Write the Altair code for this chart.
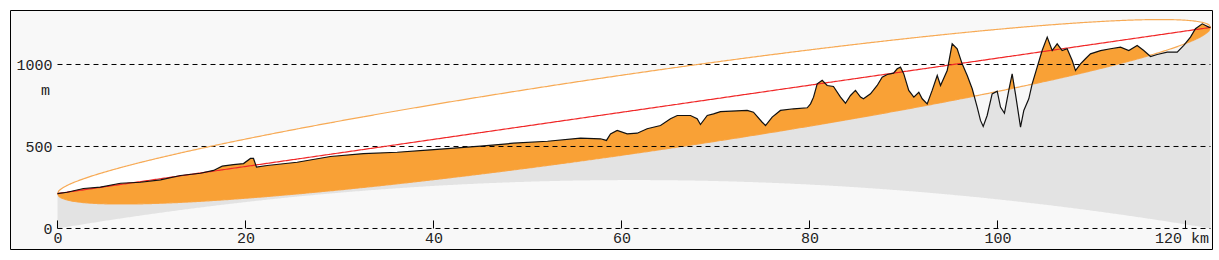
import numpy as np
import pandas as pd
import altair as alt

# ---- terrain profile (plotted height, m, incl. earth bulge) ----
PROFILE_KM = [0.0, 1.03, 2.77, 4.57, 6.70, 8.83, 10.96, 13.09, 15.21, 16.60, 17.52, 18.72,
              19.79, 20.53, 20.85, 21.17, 22.31, 25.50, 29.04, 32.55, 36.14, 39.68, 45.0,
              48.51, 52.13, 55.64, 57.77, 58.40, 58.83, 59.54, 60.61, 61.67, 62.73, 64.15,
              65.21, 65.93, 67.34, 68.05, 68.40, 69.12, 69.79, 70.53, 73.37, 74.04, 74.97,
              75.32, 76.03, 76.91, 78.30, 79.76, 80.11, 80.43, 80.82, 81.35, 81.88, 82.55,
              83.30, 83.83, 84.36, 84.89, 85.43, 85.74, 86.49, 87.20, 87.73, 88.27, 88.94,
              89.33, 89.68, 90.03, 90.56, 91.10, 91.63, 91.99, 92.52, 93.05, 93.59, 93.94,
              94.65, 95.18, 95.71, 96.24, 96.78, 97.31, 97.84, 98.19, 98.48, 98.90, 99.43,
              99.97, 100.32, 100.74, 101.20, 101.56, 101.91, 102.45, 102.80, 103.33, 103.69,
              104.22, 104.75, 105.29, 105.82, 106.35, 106.88, 107.41, 107.95, 108.30, 108.83,
              109.36, 109.89, 110.96, 112.02, 113.09, 113.97, 114.86, 115.56, 116.28, 116.99,
              118.05, 119.12, 119.82, 120.53, 121.06, 121.78, 122.48, 122.66]
PROFILE_M = [213, 221, 244, 252, 276, 282, 297, 323, 337, 354, 380, 390,
             396, 427, 427, 374, 384, 404, 439, 457, 465, 480, 502,
             520, 532, 551, 547, 537, 577, 598, 577, 581, 608, 628,
             669, 689, 689, 669, 634, 689, 699, 713, 720, 709, 648,
             628, 679, 720, 730, 736, 760, 801, 882, 903, 872, 866,
             801, 764, 811, 842, 801, 791, 821, 872, 923, 939, 947,
             974, 984, 943, 842, 801, 831, 791, 760, 842, 933, 872,
             963, 1126, 1096, 1004, 933, 852, 740, 659, 622, 689, 821,
             837, 740, 703, 842, 943, 821, 618, 720, 791, 882,
             984, 1085, 1167, 1085, 1126, 1085, 1096, 1024, 963, 1004,
             1035, 1065, 1085, 1096, 1106, 1085, 1116, 1085, 1049, 1061,
             1075, 1075, 1116, 1167, 1218, 1248, 1228, 1226]

# ---- link parameters ----
PATH_KM = 122.66
START_M = 213
END_M = 1226
EARTH_RADIUS_KM = 6371.0
K_FACTOR = 1.0
FRESNEL_UP_M = 226
FRESNEL_LOW_M = 262

GRID_M = [0, 500, 1000]
TICK_KM = [0, 20, 40, 60, 80, 100, 120]
TICK_LEN_M = [0, 49]

X_DOMAIN = [-5.053, 122.82]
Y_DOMAIN = [-125.0, 1332.3]

# ---- derived geometry (line of sight, Fresnel zone, earth curvature) ----
km = np.union1d(np.linspace(0, PATH_KM, 801), np.array(PROFILE_KM))
t = km / PATH_KM
los = START_M + (END_M - START_M) * t
shape = 2 * np.sqrt(np.clip(t * (1 - t), 0, None))
fup = los + FRESNEL_UP_M * shape
flow = los - FRESNEL_LOW_M * shape
bulge = km * (PATH_KM - km) / (2 * K_FACTOR * EARTH_RADIUS_KM) * 1000
terr = np.interp(km, PROFILE_KM, PROFILE_M)

geo = pd.DataFrame({
    "km": km, "los": los, "fup": fup, "flow": flow, "bulge": bulge,
    "grey_top": np.minimum(terr, flow), "orange_top": np.maximum(terr, flow),
})
prof = pd.DataFrame({"km": PROFILE_KM, "m": PROFILE_M})
grid = pd.DataFrame({"m": GRID_M, "x0": 0.0, "x1": PATH_KM})
ticks = pd.DataFrame({"km": TICK_KM, "y0": TICK_LEN_M[0], "y1": TICK_LEN_M[1]})

xs = alt.Scale(domain=X_DOMAIN, nice=False, zero=False)
ys = alt.Scale(domain=Y_DOMAIN, nice=False, zero=False)

x_axis = alt.Axis(values=TICK_KM, orient="bottom", offset=-21, domain=False, ticks=False,
                  grid=False, labelPadding=2, labelFlush=False, labelOverlap=False,
                  format="d",
                  labelExpr="datum.value == 120 ? '120 km' : datum.label",
                  labelOffset={"condition": {"test": "datum.value == 120", "value": -4},
                               "value": 0},
                  title=None)
y_axis = alt.Axis(values=GRID_M, orient="left", offset=-47, domain=False, ticks=False,
                  grid=False, labelPadding=5, labelFlush=False, format="d",
                  labelOverlap=False, title="m", titleAngle=0, titleX=-12, titleY=79,
                  titleAlign="center", titleBaseline="middle", titleFontWeight="normal")


def X(field):
    return alt.X(field, type="quantitative", scale=xs, axis=x_axis)


def Y(field):
    return alt.Y(field, type="quantitative", scale=ys, axis=y_axis)


base = alt.Chart(geo)

ellipse = base.mark_area(color="#ffffff").encode(x=X("km"), y=Y("flow"), y2="fup:Q")
grey = base.mark_area(color="#e3e3e3").encode(x=X("km"), y=Y("bulge"), y2="grey_top:Q")
flow_line = base.mark_line(color="#f7aa55", strokeWidth=1.2).encode(x=X("km"), y=Y("flow"))
orange = base.mark_area(color="#f9a136").encode(x=X("km"), y=Y("flow"), y2="orange_top:Q")
grid_rules = alt.Chart(grid).mark_rule(color="#000000", strokeWidth=1, strokeDash=[5, 4]).encode(
    x=X("x0"), x2="x1:Q", y=Y("m"))
tick_rules = alt.Chart(ticks).mark_rule(color="#000000", strokeWidth=1).encode(
    x=X("km"), y=Y("y0"), y2="y1:Q")
fup_line = base.mark_line(color="#f7aa55", strokeWidth=1.2).encode(x=X("km"), y=Y("fup"))
los_line = base.mark_line(color="#f02828", strokeWidth=1.2).encode(x=X("km"), y=Y("los"))
terrain = alt.Chart(prof).mark_line(color="#111111", strokeWidth=1.2).encode(x=X("km"), y=Y("m"))

chart = alt.layer(
    ellipse, grey, flow_line, orange, grid_rules, tick_rules, fup_line, los_line, terrain
).properties(
    width=1202, height=239,
    autosize=alt.AutoSizeParams(type="none"),
    padding={"left": 10, "top": 10, "right": 7, "bottom": 11},
    background="#ffffff",
).configure_view(
    stroke="#000000", strokeWidth=1, fill="#f8f8f8"
).configure_axis(
    labelFont="Liberation Mono", labelFontSize=15, labelColor="#222222",
    titleFont="Liberation Mono", titleFontSize=15, titleColor="#222222",
)

chart.save("out.html", embed_options={"renderer": "svg", "actions": False})
